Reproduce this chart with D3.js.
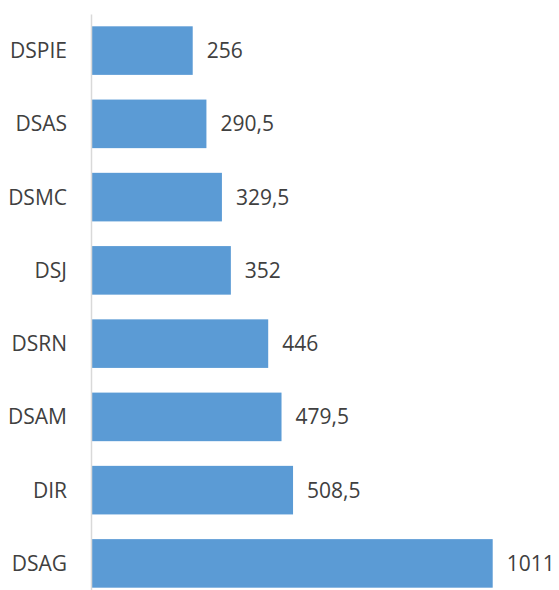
<!DOCTYPE html>
<html lang="pt">
<head>
<meta charset="utf-8">
<title>Bar chart</title>
<script src="https://cdn.jsdelivr.net/npm/d3@7"></script>
<style>
  body { margin: 0; background: #fff; }
  .lbl { font-family: "Open Sans", sans-serif; font-size: 21px; fill: #404040; }
</style>
</head>
<body>
<div id="chart"></div>
<script>
var categories = ["DSPIE", "DSAS", "DSMC", "DSJ", "DSRN", "DSAM", "DIR", "DSAG"];
var values = [256, 290.5, 329.5, 352, 446, 479.5, 508.5, 1011];
var valueLabels = ["256", "290,5", "329,5", "352", "446", "479,5", "508,5", "1011"];

var width = 559, height = 590;
var left = 91;

var svg = d3.select("#chart").append("svg")
    .attr("width", width)
    .attr("height", height);

var x = d3.scaleLinear()
    .domain([0, 1011])
    .range([left, 492.7]);

var y = d3.scaleBand()
    .domain(categories)
    .range([14, 600])
    .paddingInner(0.337)
    .paddingOuter(0.168);

var data = categories.map(function(c, i) {
  return { cat: c, val: values[i], label: valueLabels[i] };
});

svg.selectAll(".bar")
    .data(data)
  .enter().append("rect")
    .attr("class", "bar")
    .attr("x", x(0))
    .attr("y", function(d) { return y(d.cat); })
    .attr("width", function(d) { return x(d.val) - x(0); })
    .attr("height", y.bandwidth())
    .attr("fill", "#5b9bd5");

// value labels
svg.selectAll(".val")
    .data(data)
  .enter().append("text")
    .attr("class", "lbl")
    .attr("x", function(d) { return x(d.val) + 14; })
    .attr("y", function(d) { return y(d.cat) + y.bandwidth() / 2; })
    .attr("dy", "0.36em")
    .text(function(d) { return d.label; });

// category axis
var yAxis = svg.append("g")
    .attr("transform", "translate(" + left + ",0)")
    .call(d3.axisLeft(y).tickSize(0).tickPadding(24));

yAxis.select(".domain")
    .attr("stroke", "#d9d9d9")
    .attr("stroke-width", 1.5);

yAxis.selectAll("text")
    .attr("class", "lbl")
    .attr("dy", "0.36em");
</script>
</body>
</html>
